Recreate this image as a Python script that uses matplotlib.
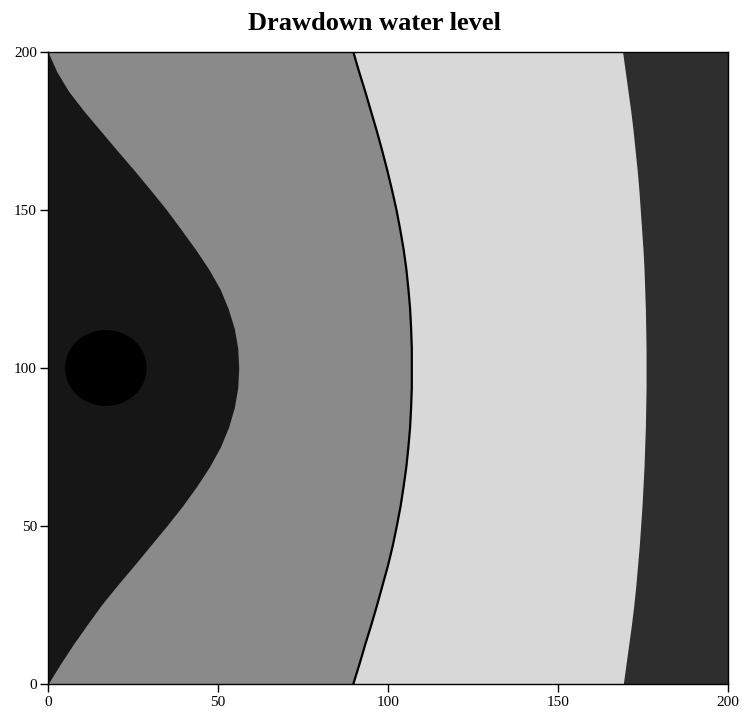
import matplotlib.pyplot as plt
from matplotlib.patches import Circle

plt.rcParams['font.family'] = ['Liberation Serif', 'DejaVu Serif']

# Niveles en y (m) y la posicion x de cada frontera del abatimiento
y_niveles = [0, 6.25, 12.5, 18.75, 25, 31.25, 37.5, 43.75, 50, 56.25, 62.5,
             68.75, 75, 81.25, 87.5, 93.75, 100, 106.25, 112.5, 118.75, 125,
             131.25, 137.5, 143.75, 150, 156.25, 162.5, 168.75, 175, 181.25,
             187.5, 193.75, 200]
frontera_1 = [0, 3.6, 7.4, 11.5, 15.7, 20.4, 25.3, 30.1, 34.9, 39.5, 43.7,
              47.5, 50.7, 53.1, 54.8, 55.8, 56.1, 55.8, 54.8, 53.0, 50.6,
              47.3, 43.4, 39.2, 34.9, 30.2, 25.4, 20.4, 15.5, 10.6,
              6.1, 2.6, 0]
frontera_2 = [89.8, 91.6, 93.3, 95.1, 96.8, 98.4, 100.0, 101.4, 102.6, 103.7, 104.6,
              105.4, 106.0, 106.5, 106.8, 107.0, 107.0, 107.0, 106.8, 106.5, 106.0,
              105.4, 104.6, 103.6, 102.5, 101.2, 99.8, 98.3, 96.7, 95.0,
              93.3, 91.5, 89.8]
frontera_3 = [169.2, 170.0, 170.8, 171.6, 172.3, 172.9, 173.4, 173.9, 174.3, 174.7, 175.0,
              175.3, 175.5, 175.7, 175.8, 175.9, 175.9, 175.9, 175.8, 175.7, 175.5,
              175.3, 175.0, 174.6, 174.2, 173.8, 173.3, 172.7, 172.1, 171.4,
              170.6, 169.8, 169.0]

# Pozo (centro y radio del cono mas profundo)
pozo_x = 17
pozo_y = 100
pozo_r = 12

colores = ['#161616', '#8a8a8a', '#d8d8d8', '#2e2e2e', '#000000']

fig = plt.figure(figsize=(7.42, 7.12), dpi=100)
ax = fig.add_axes([48 / 742, 28 / 712, 680 / 742, 632 / 712])

# Se pinta de afuera hacia adentro para que no queden rendijas
ax.set_facecolor(colores[3])
ax.fill_betweenx(y_niveles, 0, frontera_3, color=colores[2], lw=0)
ax.fill_betweenx(y_niveles, 0, frontera_2, color=colores[1], lw=0)
ax.fill_betweenx(y_niveles, 0, frontera_1, color=colores[0], lw=0)
ax.add_patch(Circle((pozo_x, pozo_y), pozo_r, color=colores[4], lw=0))
ax.plot(frontera_2, y_niveles, color='black', lw=1.6)

ax.set_xlim(0, 200)
ax.set_ylim(0, 200)
ax.set_xticks([0, 50, 100, 150, 200])
ax.set_yticks([0, 50, 100, 150, 200])
ax.tick_params(axis='both', length=6, width=1, labelsize=11, color='black')
ax.tick_params(axis='x', pad=3)
ax.tick_params(axis='y', pad=2)
for lado in ax.spines.values():
    lado.set_linewidth(1)

fig.text(374 / 742, 1 - 23 / 712, 'Drawdown water level', ha='center', va='center',
         fontsize=19, fontweight='bold')

fig.savefig('out.png', dpi=100)
